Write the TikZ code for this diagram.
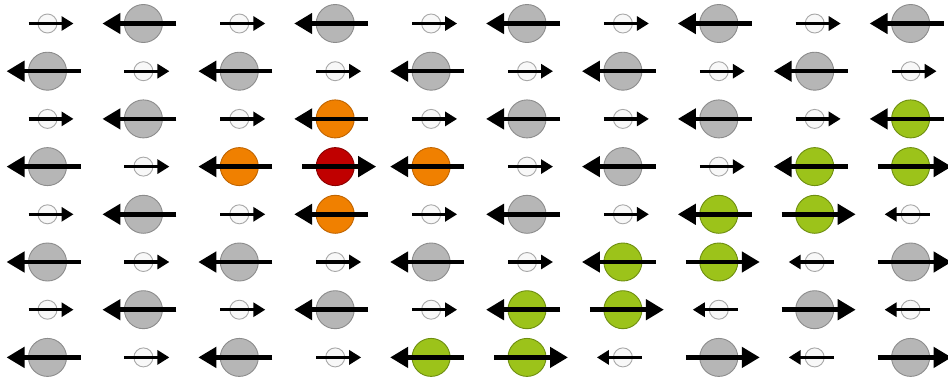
\documentclass[tikz,border=0pt]{standalone}
\usetikzlibrary{arrows.meta}
\definecolor{wfill}{HTML}{F8F8F8}
\definecolor{wedge}{HTML}{A8A8A8}
\definecolor{gfill}{HTML}{B6B6B6}
\definecolor{gedge}{HTML}{8C8C8C}
\definecolor{ofill}{HTML}{F08000}
\definecolor{oedge}{HTML}{C06400}
\definecolor{rfill}{HTML}{C00000}
\definecolor{redge}{HTML}{8B0000}
\definecolor{vfill}{HTML}{9CC31A}
\definecolor{vedge}{HTML}{6E8E10}
\tikzset{
  k0/.style={circle, minimum size=19pt, inner sep=0pt, line width=0.9pt},
  k1/.style={circle, minimum size=38pt, inner sep=0pt, line width=0.9pt},
  a0/.style={line width=3.2pt, -{Triangle[length=12pt,width=14pt]}},
  a1/.style={line width=4.5pt, -{Triangle[length=18pt,width=20pt]}},
}
\begin{document}
\begin{tikzpicture}[x=1pt,y=-1pt]
\fill[white] (0,0) rectangle (948,381);
\useasboundingbox (0,0) rectangle (948,381);
\foreach \r/\L in {
 0/{0/w/1,1/g/-1,0/w/1,1/g/-1,0/w/1,1/g/-1,0/w/1,1/g/-1,0/w/1,1/g/-1},
 1/{1/g/-1,0/w/1,1/g/-1,0/w/1,1/g/-1,0/w/1,1/g/-1,0/w/1,1/g/-1,0/w/1},
 2/{0/w/1,1/g/-1,0/w/1,1/o/-1,0/w/1,1/g/-1,0/w/1,1/g/-1,0/w/1,1/v/-1},
 3/{1/g/-1,0/w/1,1/o/-1,1/r/1,1/o/-1,0/w/1,1/g/-1,0/w/1,1/v/-1,1/v/1},
 4/{0/w/1,1/g/-1,0/w/1,1/o/-1,0/w/1,1/g/-1,0/w/1,1/v/-1,1/v/1,0/w/-1},
 5/{1/g/-1,0/w/1,1/g/-1,0/w/1,1/g/-1,0/w/1,1/v/-1,1/v/1,0/w/-1,1/g/1},
 6/{0/w/1,1/g/-1,0/w/1,1/g/-1,0/w/1,1/v/-1,1/v/1,0/w/-1,1/g/1,0/w/-1},
 7/{1/g/-1,0/w/1,1/g/-1,0/w/1,1/v/-1,1/v/1,0/w/-1,1/g/1,0/w/-1,1/g/1}}{
  \foreach \k/\c/\d [count=\cc from 0] in \L {
    \pgfmathsetmacro\px{47.5+95.9*\cc}
    \pgfmathsetmacro\py{23.5+47.7*\r}
    \pgfmathsetmacro\dxa{-(\k==1 ? 33 : 19)*\d}
    \pgfmathsetmacro\dxb{(\k==1 ? 41 : 26)*\d}
    \node[k\k, fill=\c fill, draw=\c edge] (n-\r-\cc) at (\px,\py) {};
    \draw[a\k] ([xshift=\dxa pt]n-\r-\cc.center) -- ([xshift=\dxb pt]n-\r-\cc.center);
  }
}
\end{tikzpicture}
\end{document}
